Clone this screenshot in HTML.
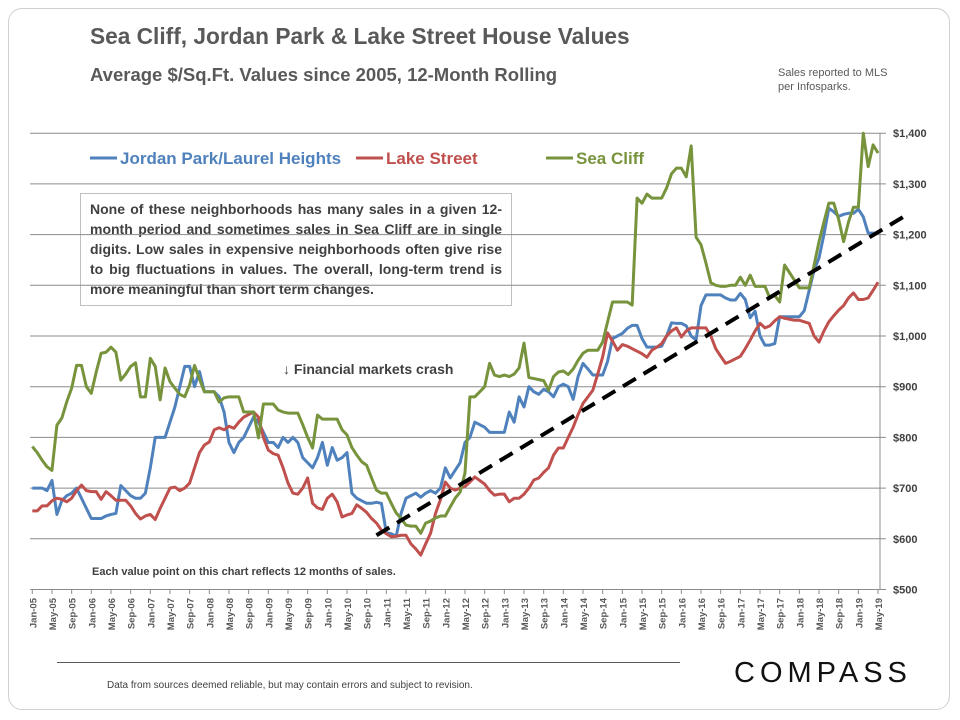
<!DOCTYPE html>
<html><head><meta charset="utf-8"><style>
body{margin:0;background:#fff;font-family:"Liberation Sans",sans-serif}
#card{position:absolute;left:8px;top:8px;width:942px;height:702px;border:1px solid #d0d0d0;border-radius:14px;box-sizing:border-box}
.t{position:absolute;white-space:nowrap;color:#595959;font-weight:bold}
</style></head><body>
<div id="card"></div>
<div class="t" style="left:90px;top:23px;font-size:22.7px">Sea Cliff, Jordan Park &amp; Lake Street House Values</div>
<div class="t" style="left:90px;top:64px;font-size:18.5px">Average $/Sq.Ft. Values since 2005, 12-Month Rolling</div>
<div class="t" style="left:778px;top:66px;font-size:11px;font-weight:normal;line-height:14px">Sales reported to MLS<br>per Infosparks.</div>
<div style="position:absolute;left:80px;top:193px;width:432px;height:113px;border:1px solid #bfbfbf;background:#fff;box-sizing:border-box;padding:5px 9px;font-size:14px;font-weight:bold;color:#404040;line-height:20px;text-align:justify">None of these neighborhoods has many sales in a given 12-month period and sometimes sales in Sea Cliff are in single digits. Low sales in expensive neighborhoods often give rise to big fluctuations in values. The overall, long-term trend is more meaningful than short term changes.</div>
<svg id="chart" width="960" height="720" style="position:absolute;left:0;top:0"></svg>
<div class="t" style="left:283px;top:361px;font-size:14px;color:#404040">↓ Financial markets crash</div>
<div class="t" style="left:92px;top:566px;font-size:11px;color:#404040">Each value point on this chart reflects 12 months of sales.</div>
<div style="position:absolute;left:57px;top:662px;width:623px;height:1px;background:#595959"></div>
<div class="t" style="left:107px;top:680px;font-size:10px;font-weight:normal;color:#404040">Data from sources deemed reliable, but may contain errors and subject to revision.</div>
<div class="t" style="left:734px;top:657px;font-size:29px;font-weight:normal;color:#111;letter-spacing:5px">COMPASS</div>
<script>
const months=["Jan","Feb","Mar","Apr","May","Jun","Jul","Aug","Sep","Oct","Nov","Dec"];
const yTicks=[500,600,700,800,900,1000,1100,1200,1300,1400];
const jordanPark=[700,700,700,695,715,648,675,685,690,700,680,660,
640,640,640,645,648,650,705,695,685,680,680,690,
740,800,800,800,830,860,900,940,940,900,930,890,
890,890,880,850,790,770,790,800,820,840,830,810,
790,790,780,800,790,800,790,760,750,740,760,790,
745,780,755,760,770,690,680,675,670,670,672,670,
612,610,605,650,680,685,690,682,690,695,690,700,
740,720,735,750,790,800,830,825,820,810,810,810,
810,850,830,880,860,900,890,885,895,890,880,900,
905,900,875,920,946,935,923,923,923,950,995,1000,
1005,1015,1021,1021,995,978,978,978,980,1000,1026,1025,
1025,1020,1000,992,1060,1081,1081,1081,1081,1075,1071,1071,
1084,1072,1036,1049,1000,982,982,985,1038,1038,1038,1038,
1038,1050,1090,1130,1154,1200,1252,1245,1236,1240,1242,1242,
1250,1235,1203,1203,1203];
const lakeStreet=[655,655,665,665,675,680,678,673,680,695,706,695,
693,693,678,693,685,676,676,676,665,650,639,645,
648,638,660,680,700,702,695,700,710,740,770,785,
791,815,819,815,822,818,830,840,845,850,840,800,
775,768,765,740,710,690,688,700,720,670,661,658,
680,688,673,643,647,650,667,660,652,640,631,617,
610,604,605,607,607,590,580,568,590,611,650,677,
712,700,696,700,703,712,722,715,708,695,686,688,
688,673,680,680,688,700,716,720,731,740,765,779,
779,800,820,845,867,880,893,925,959,1006,990,972,
983,980,975,970,965,958,972,978,985,1000,1010,1016,
998,1010,1016,1016,1016,1016,1000,975,960,946,950,955,
960,975,992,1010,1025,1016,1020,1030,1038,1035,1033,1031,
1031,1028,1025,1000,988,1010,1028,1040,1051,1060,1075,1085,
1072,1072,1075,1090,1106];
const seaCliff=[782,770,755,742,735,824,838,870,897,942,942,900,
887,929,966,968,978,968,913,925,940,947,880,880,
956,940,874,937,910,897,885,880,904,942,915,890,
890,890,870,878,880,880,880,850,850,850,799,866,
866,866,854,850,848,848,848,825,800,779,844,836,
836,836,836,815,805,780,765,752,745,720,696,690,
690,670,651,640,627,625,625,611,631,635,641,645,
645,663,680,692,730,880,880,890,900,946,923,920,
923,920,925,937,986,918,916,914,912,893,920,929,
931,924,935,952,966,972,972,972,988,1028,1067,1067,
1067,1067,1061,1272,1262,1280,1272,1272,1272,1292,1320,1331,
1331,1314,1375,1195,1180,1144,1105,1100,1098,1098,1100,1100,
1116,1100,1120,1098,1098,1098,1075,1080,1067,1140,1125,1110,
1095,1095,1095,1140,1186,1225,1262,1262,1230,1186,1225,1254,
1254,1400,1334,1377,1361];
const trendIdx=[70,178];
const trendVal=[607,1240];

const svg=document.getElementById('chart');
const NS='http://www.w3.org/2000/svg';
const X=i=>32.3+4.917*i;
const Y=v=>589.5-(v-500)*0.507;
function mk(tag,attrs,parent){const e=document.createElementNS(NS,tag);for(const k in attrs)e.setAttribute(k,attrs[k]);(parent||svg).appendChild(e);return e;}
yTicks.forEach(v=>{
  const g=mk('line',{x1:30,x2:886,y1:Y(v),y2:Y(v),stroke:'#8c8c8c','stroke-width':1});
  
  
  const t=mk('text',{x:893,y:Y(v)+4,'font-size':11,'font-weight':'bold',fill:'#404040','font-family':'Liberation Sans, sans-serif'});
  t.textContent='$'+v.toLocaleString('en-US');
  
  
});
mk('line',{x1:880,x2:880,y1:Y(1400),y2:Y(500),stroke:'#8c8c8c'});
for(let i=0;i<jordanPark.length;i+=4){
  mk('line',{x1:X(i),x2:X(i),y1:589.5,y2:594,stroke:'#8c8c8c'});
  const x=X(i),y=598;
  const t=mk('text',{x:x+4,y:y,transform:`rotate(-90 ${x+4} ${y})`,'text-anchor':'end','font-size':9.5,'font-weight':'bold',fill:'#595959','font-family':'Liberation Sans, sans-serif'});
  t.textContent=months[i%12]+'-'+String(5+Math.floor(i/12)).padStart(2,'0');
  
  
}
function line(data,color,name){
  const p=mk('polyline',{points:data.map((v,i)=>X(i)+','+Y(v)).join(' '),fill:'none',stroke:color,'stroke-width':3,'stroke-linejoin':'round'});
  
  
}
line(jordanPark,'#4f81bd','jordan-park-line');
line(lakeStreet,'#c0504d','lake-street-line');
line(seaCliff,'#77933c','sea-cliff-line');
const tr=mk('line',{x1:X(trendIdx[0]),y1:Y(trendVal[0]),x2:X(trendIdx[1]),y2:Y(trendVal[1]),stroke:'#000','stroke-width':4,'stroke-dasharray':'15 9'});


const legend=[['Jordan Park/Laurel Heights','#4f81bd',90],['Lake Street','#c0504d',356],['Sea Cliff','#77933c',546]];
legend.forEach(([n,c,x])=>{
  const g=mk('g',{});
  
  
  mk('line',{x1:x,x2:x+27,y1:158,y2:158,stroke:c,'stroke-width':3},g);
  const t=mk('text',{x:x+30,y:164,'font-size':17,'font-weight':'bold',fill:c,'font-family':'Liberation Sans, sans-serif'},g);
  t.textContent=n;
});
</script>
</body></html>
